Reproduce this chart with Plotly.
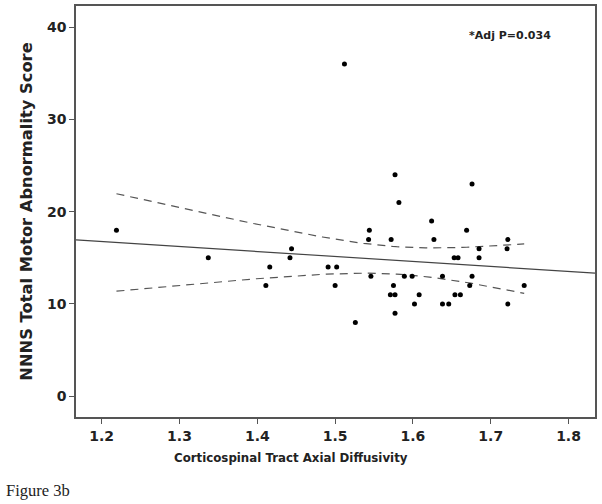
import numpy as np
import plotly.graph_objects as go

# Corticospinal tract axial diffusivity vs NNNS total motor abnormality score
axial_diffusivity = [1.219, 1.337, 1.411, 1.416, 1.442, 1.444, 1.491, 1.500, 1.502,
                     1.512, 1.526, 1.543, 1.544, 1.546, 1.571, 1.572, 1.575, 1.577,
                     1.577, 1.577, 1.582, 1.589, 1.599, 1.602, 1.608, 1.624, 1.627,
                     1.638, 1.638, 1.646, 1.653, 1.654, 1.658, 1.661, 1.669, 1.673,
                     1.676, 1.676, 1.685, 1.685, 1.721, 1.722, 1.722, 1.743]
motor_score = [18, 15, 12, 14, 15, 16, 14, 12, 14,
               36, 8, 17, 18, 13, 11, 17, 12, 24,
               11, 9, 21, 13, 13, 10, 11, 19, 17,
               10, 13, 10, 15, 11, 15, 11, 18, 12,
               23, 13, 16, 15, 16, 17, 10, 12]

x_ticks = [1.2, 1.3, 1.4, 1.5, 1.6, 1.7, 1.8]
y_ticks = [0, 10, 20, 30, 40]
x_range = [1.167, 1.834]
y_range = [-2.25, 42.3]

x = np.array(axial_diffusivity)
y = np.array(motor_score)
n = len(x)
slope, intercept = np.polyfit(x, y, 1)
resid = y - (slope * x + intercept)
s = np.sqrt(np.sum(resid ** 2) / (n - 2))
sxx = np.sum((x - x.mean()) ** 2)
t_crit = 2.018  # t(0.975, df=42)

xf = np.array(x_range)
xc = np.linspace(x.min(), x.max(), 100)
yc = slope * xc + intercept
half = t_crit * s * np.sqrt(1 / n + (xc - x.mean()) ** 2 / sxx)

font = "DejaVu Sans"
fig = go.Figure()
fig.add_trace(go.Scatter(x=xf, y=slope * xf + intercept, mode="lines",
                         line=dict(color="#444444", width=1.2), hoverinfo="skip"))
for band in (yc + half, yc - half):
    fig.add_trace(go.Scatter(x=xc, y=band, mode="lines",
                             line=dict(color="#555555", width=1.2, dash="8px,6px"),
                             hoverinfo="skip"))
fig.add_trace(go.Scatter(x=x, y=y, mode="markers",
                         marker=dict(color="black", size=5)))

axis_common = dict(showgrid=False, zeroline=False, showline=True, mirror=True,
                   linecolor="#555555", linewidth=1.5, ticks="outside",
                   ticklen=5, tickcolor="#555555", automargin=False,
                   tickfont=dict(family=font, size=14, color="#222222", weight="bold"))
fig.update_xaxes(range=x_range, tickvals=x_ticks, tickformat=".1f", **axis_common)
fig.update_yaxes(range=y_range, tickvals=y_ticks,
                 title=dict(text="NNNS Total Motor Abnormality Score", standoff=10,
                            font=dict(family=font, size=16.3, color="#222222", weight="bold")),
                 **axis_common)

# SPSS centres the x title slightly left of the plot centre
fig.add_annotation(x=0.4145, y=-0.1, xref="paper", yref="paper", showarrow=False,
                   xanchor="center", yanchor="middle",
                   text="Corticospinal Tract Axial Diffusivity",
                   font=dict(family=font, size=11.8, color="#222222", weight="bold"))
fig.add_annotation(x=0.919, y=0.928, xref="paper", yref="paper", showarrow=False,
                   xanchor="right", yanchor="middle", text="*Adj P=0.034",
                   font=dict(family=font, size=11, color="#222222", weight="bold"))
fig.add_annotation(x=-0.138, y=-0.179, xref="paper", yref="paper", showarrow=False,
                   xanchor="left", yanchor="middle", text="Figure 3b",
                   font=dict(family="Liberation Serif", size=16.5, color="#222222"))

fig.update_layout(width=602, height=504, showlegend=False,
                  plot_bgcolor="white", paper_bgcolor="white",
                  margin=dict(l=76, r=7, t=6, b=87))
# drop the default 8px page margin so the figure fills the window exactly
fig.write_html("out.html", config={"displayModeBar": False},
               post_script="document.body.style.margin='0px';")
